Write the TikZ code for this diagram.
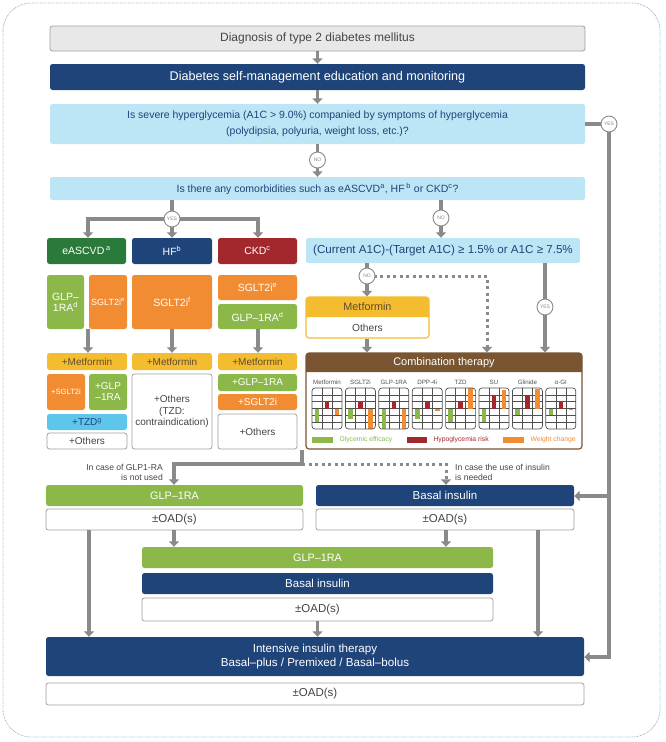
\documentclass[tikz,border=0pt]{standalone}
\usepackage{fontspec}
\setmainfont{Liberation Sans}
\usetikzlibrary{arrows.meta}
\definecolor{cDB}{HTML}{1F4479}
\definecolor{cLB}{HTML}{BCE5F6}
\definecolor{cLG}{HTML}{E8E8E8}
\definecolor{cBG}{HTML}{A0A0A0}
\definecolor{cTG}{HTML}{454545}
\definecolor{cDG}{HTML}{2A7A3B}
\definecolor{cDR}{HTML}{A3282D}
\definecolor{cGR}{HTML}{8CB84A}
\definecolor{cOR}{HTML}{F28C33}
\definecolor{cYL}{HTML}{F4BC2F}
\definecolor{cYT}{HTML}{5E4C2E}
\definecolor{cCY}{HTML}{5EC6EB}
\definecolor{cBR}{HTML}{7A5532}
\definecolor{cAG}{HTML}{8A8A8A}
\definecolor{cOB}{HTML}{A8B4C8}
\definecolor{cGG}{HTML}{505050}
\newcommand\fsz[2]{\fontsize{#1pt}{#2pt}\selectfont}
\newcommand\mybox[7]{\node[#1,minimum width={(#4)*1pt-(#2)*1pt},minimum height={(#5)*1pt-(#3)*1pt}] (#6) at ({(#2+#4)/2},{(#3+#5)/2}) {#7};}
\tikzset{
  base/.style={rectangle, rounded corners=2.5pt, inner sep=1pt, align=center, font=\fsz{10.5}{12}},
  gbox/.style={base, fill=cLG, draw=cBG, line width=0.8pt, text=cTG},
  dbox/.style={base, fill=cDB, text=white},
  lbbox/.style={base, fill=cLB, text=cDB},
  grbox/.style={base, fill=cGR, text=white},
  orbox/.style={base, fill=cOR, text=white},
  ylbox/.style={base, fill=cYL, text=cYT},
  cybox/.style={base, fill=cCY, text=cDB},
  wbox/.style={base, fill=white, draw=cBG, line width=0.8pt, text=cTG},
  circ/.style={circle, draw=cAG, fill=white, line width=0.9pt, minimum size=16pt, inner sep=0pt, font=\fsz{5}{6}, text=cAG},
  ln/.style={draw=cAG, line width=3.2pt},
  arr/.style={draw=cAG, line width=3.2pt, -{Triangle[length=5.5pt,width=10pt]}},
  dotarr/.style={draw=cAG, line width=3pt, dash pattern=on 3pt off 3.5pt, -{Triangle[length=5.5pt,width=10pt]}},
}
\begin{document}
\begin{tikzpicture}[x=1pt,y=-1pt]
\useasboundingbox (0,0) rectangle (666,742);
\draw[cOB, line width=0.8pt, dash pattern=on 0.8pt off 0.8pt, rounded corners=28pt] (3,3) rectangle (660,737);

% top
\mybox{gbox, font=\fsz{12}{13}}{50}{26}{585}{51}{diag}{Diagnosis of type 2 diabetes mellitus}
\mybox{dbox, font=\fsz{12.6}{14}}{50}{64}{585}{90}{dsme}{Diabetes self-management education and monitoring}
\mybox{lbbox, font=\fsz{10.5}{16}}{50}{104}{585}{144}{sev}{Is severe hyperglycemia (A1C > 9.0\%) companied by symptoms of hyperglycemia\\(polydipsia, polyuria, weight loss, etc.)?}
\mybox{lbbox, font=\fsz{10.5}{12}}{50}{177}{585}{200}{com}{Is there any comorbidities such as eASCVD\textsuperscript{a}, HF\,\textsuperscript{b} or CKD\textsuperscript{c}?}

\draw[arr] (diag) -- (dsme);
\draw[arr] (dsme) -- (sev);
\coordinate (no1) at (317.5,160);
\draw[arr] (sev) -- (com);

% comorbidity columns
\mybox{base, fill=cDG, text=white}{47}{238}{126}{264}{eas}{eASCVD\,\textsuperscript{a}}
\mybox{dbox}{132}{238}{212}{264}{hf}{HF\textsuperscript{b}}
\mybox{base, fill=cDR, text=white}{218}{238}{297}{264}{ckd}{CKD\textsuperscript{c}}

\mybox{grbox, font=\fsz{10.5}{11}}{47}{275}{84}{329}{e1}{GLP–\\1RA\textsuperscript{d}}
\mybox{orbox, font=\fsz{9}{10}}{89}{275}{127}{329}{e2}{SGLT2i\textsuperscript{e}}
\mybox{orbox}{132}{275}{212}{329}{h1}{SGLT2i\textsuperscript{f}}
\mybox{orbox}{218}{275}{297}{300}{k1}{SGLT2i\textsuperscript{e}}
\mybox{grbox}{218}{304}{297}{329}{k2}{GLP–1RA\textsuperscript{d}}

\mybox{ylbox, font=\fsz{10}{11}}{47}{353}{127}{370}{em}{+Metformin}
\mybox{ylbox, font=\fsz{10}{11}}{132}{353}{212}{370}{hm}{+Metformin}
\mybox{ylbox, font=\fsz{10}{11}}{218}{353}{297}{370}{km}{+Metformin}

\mybox{orbox, font=\fsz{7.6}{9}}{47}{374}{85}{410}{e3}{+SGLT2i}
\mybox{grbox, font=\fsz{10}{11}}{89}{374}{127}{410}{e4}{+GLP\\–1RA}
\mybox{cybox, font=\fsz{10}{11}}{47}{414}{127}{430}{e5}{+TZD\textsuperscript{g}}
\mybox{wbox, font=\fsz{10}{11}}{47}{433}{127}{449}{e6}{+Others}
\mybox{wbox, font=\fsz{10}{11.5}}{132}{374}{212}{449}{h2}{+Others\\(TZD:\\contraindication)}
\mybox{grbox, font=\fsz{10}{11}}{218}{374}{297}{391}{k3}{+GLP–1RA}
\mybox{orbox, font=\fsz{10}{11}}{218}{394}{297}{410}{k4}{+SGLT2i}
\mybox{wbox, font=\fsz{10}{11}}{218}{414}{297}{449}{k5}{+Others}

\coordinate (cy) at (172,219);
\coordinate (tl) at (88,219);
\coordinate (tr) at (258,219);
\draw[ln] ([xshift=-1.6pt]tl) -- ([xshift=1.6pt]tr);
\draw[arr] (tl) -- (tl |- eas.north);
\draw[arr] (tr) -- (tr |- ckd.north);
\draw[arr] (com.south -| cy) -- (cy |- hf.north);
\draw[arr] (tl |- e1.south) -- (tl |- em.north);
\draw[arr] (h1.south) -- (hm.north);
\draw[arr] (tr |- k2.south) -- (tr |- km.north);

% right branch
\mybox{lbbox, font=\fsz{11.6}{13}}{306}{238}{580}{263}{a1c}{(Current A1C)-(Target A1C) ≥ 1.5\% or A1C ≥ 7.5\%}
\coordinate (no2) at (441,218);
\draw[arr] (com.south -| no2) -- (no2 |- a1c.north);

\node[draw=cYL, fill=white, line width=1.2pt, rounded corners=3pt, minimum width=123pt, minimum height=41pt, inner sep=0pt] (mg0) at (367.5,317.5) {};
\fill[cYL] (306,317) [rounded corners=3pt] -- (306,297) -- (429,297) [sharp corners] -- (429,317) -- cycle;
\node[font=\fsz{10.8}{12}, text=cYT] (met) at (367.5,307) {Metformin};
\node[font=\fsz{10.2}{11}, text=cTG] (oth) at (367.5,328) {Others};

% combination therapy
\node[draw=cBR, fill=white, line width=1.2pt, rounded corners=3pt, minimum width=276pt, minimum height=96pt, inner sep=0pt] (comb) at (444,401) {};
\fill[cBR] (306,372) [rounded corners=3pt] -- (306,353) -- (582,353) [sharp corners] -- (582,372) -- cycle;
\node[font=\fsz{11}{12}, text=white] (combt) at (444,362.5) {Combination therapy};

\coordinate (no3) at (367,276);
\coordinate (dt) at (487,276);
\coordinate (yes2) at (545,307);
\draw[arr] (a1c.south -| no3) -- (no3 |- mg0.north);
\draw[dotarr] (no3) -- (dt) -- (dt |- comb.north);
\draw[arr] (a1c.south -| yes2) -- (yes2 |- comb.north);
\draw[arr] (mg0.south -| no3) -- (no3 |- comb.north);

\foreach \i/\lab/\g/\r/\o in {0/Metformin/-2/1/-1, 1/SGLT2i/-1.6/1/-3, 2/GLP-1RA/-3/1/-3, 3/DPP-4i/-1.5/1/-0.3, 4/TZD/-2/0.9/3, 5/SU/-2/1.8/2.7, 6/Glinide/-1/1.8/2.8, 7/α-GI/-1/0.9/-0.25}{
  \pgfmathsetmacro\xo{312+\i*33.4}
  \pgfmathsetmacro\gy{408.5-(\g)*6.83}
  \pgfmathsetmacro\ry{408.5-(\r)*6.83}
  \pgfmathsetmacro\oy{408.5-(\o)*6.83}
  \node[font=\fsz{6.2}{7}, text=cGG] at ({\xo+15},382) {\lab};
  \foreach \k in {1,...,5}{\draw[cGG, line width=0.5pt] (\xo,{388+\k*6.833}) -- ({\xo+30},{388+\k*6.833});}
  \draw[cGG, line width=0.5pt] ({\xo+10},388) -- ({\xo+10},429) ({\xo+20},388) -- ({\xo+20},429);
  \fill[cGR] ({\xo+2.7},408.5) rectangle ({\xo+7.3},\gy);
  \fill[cDR] ({\xo+12.7},408.5) rectangle ({\xo+17.3},\ry);
  \fill[cOR] ({\xo+22.7},408.5) rectangle ({\xo+27.3},\oy);
  \draw[cGG, line width=0.7pt, rounded corners=3pt] (\xo,388) rectangle ({\xo+30},429);
}
\fill[cGR] (312,437) rectangle (333,443);
\node[anchor=west, font=\fsz{6.8}{8}, text=cGR] (lg1) at (336,440) {Glycemic efficacy};
\fill[cDR] (407,437) rectangle (427,443);
\node[anchor=west, font=\fsz{6.8}{8}, text=cDR] (lg2) at (430,440) {Hypoglycemia risk};
\fill[cOR] (503,437) rectangle (524,443);
\node[anchor=west, font=\fsz{6.8}{8}, text=cOR] (lg3) at (527,440) {Weight change};

% lower part
\mybox{grbox, font=\fsz{10.8}{12}}{46}{485}{303}{506}{glp}{GLP–1RA}
\mybox{wbox, font=\fsz{11.5}{12}}{46}{509}{303}{530}{o1}{±OAD(s)}
\mybox{dbox, font=\fsz{11.5}{12}}{316}{485}{574}{506}{bas}{Basal insulin}
\mybox{wbox, font=\fsz{11.5}{12}}{316}{509}{574}{530}{o2}{±OAD(s)}
\mybox{grbox, font=\fsz{10.8}{12}}{142}{547}{493}{568}{mg}{GLP–1RA}
\mybox{dbox, font=\fsz{11.5}{12}}{142}{573}{493}{594}{mb}{Basal insulin}
\mybox{wbox, font=\fsz{11.5}{12}}{142}{598}{493}{621}{mo}{±OAD(s)}
\mybox{dbox, font=\fsz{11.6}{14}}{46}{637}{584}{676}{int}{Intensive insulin therapy\\Basal–plus / Premixed / Basal–bolus}
\mybox{wbox, font=\fsz{11.5}{12}}{46}{683}{584}{705}{io}{±OAD(s)}

\coordinate (lc) at (302,464);
\coordinate (gx) at (174,464);
\coordinate (ix) at (446,464);
\draw[dotarr] (lc) -- (ix) -- (ix |- bas.north);
\draw[arr] (comb.south -| lc) -- (lc) -- (gx) -- (gx |- glp.north);
\node[anchor=east, align=right, font=\fsz{8.6}{10}, text=cTG, inner sep=0pt] (t1) at (163,472) {In case of GLP1-RA\\is not used};
\node[anchor=west, align=left, font=\fsz{8.6}{10}, text=cTG, inner sep=0pt] (t2) at (455,472) {In case the use of insulin\\is needed};

\draw[arr] (gx |- o1.south) -- (gx |- mg.north);
\draw[arr] (ix |- o2.south) -- (ix |- mg.north);
\coordinate (lx) at (89,600);
\coordinate (rx) at (538,600);
\draw[arr] (lx |- o1.south) -- (lx |- int.north);
\draw[arr] (rx |- o2.south) -- (rx |- int.north);
\draw[arr] (mo.south) -- (mo.south |- int.north);

\coordinate (y0) at (609,124);
\coordinate (yc) at (609,657);
\coordinate (yb) at (609,496);
\draw[arr] (sev.east |- y0) -- (y0) -- (yc) -- (int.east |- yc);
\draw[arr] (yb) -- (bas.east |- yb);

% circles
\node[circ] (cno1) at (no1) {NO};
\node[circ] (cyes1) at (cy) {YES};
\node[circ] (cno2) at (no2) {NO};
\node[circ] (cno3) at (no3) {NO};
\node[circ] (cyes2) at (yes2) {YES};
\node[circ] (cyes3) at (y0) {YES};
\end{tikzpicture}
\end{document}
